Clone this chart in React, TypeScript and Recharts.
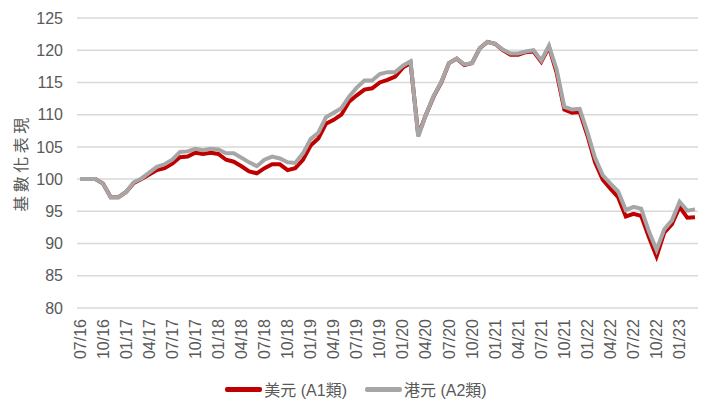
import React from 'react';
import { LineChart, Line, XAxis, YAxis, CartesianGrid, Legend, Label } from 'recharts';

const months = [
  '07/16', '08/16', '09/16', '10/16', '11/16', '12/16',
  '01/17', '02/17', '03/17', '04/17', '05/17', '06/17', '07/17', '08/17', '09/17', '10/17', '11/17', '12/17',
  '01/18', '02/18', '03/18', '04/18', '05/18', '06/18', '07/18', '08/18', '09/18', '10/18', '11/18', '12/18',
  '01/19', '02/19', '03/19', '04/19', '05/19', '06/19', '07/19', '08/19', '09/19', '10/19', '11/19', '12/19',
  '01/20', '02/20', '03/20', '04/20', '05/20', '06/20', '07/20', '08/20', '09/20', '10/20', '11/20', '12/20',
  '01/21', '02/21', '03/21', '04/21', '05/21', '06/21', '07/21', '08/21', '09/21', '10/21', '11/21', '12/21',
  '01/22', '02/22', '03/22', '04/22', '05/22', '06/22', '07/22', '08/22', '09/22', '10/22', '11/22', '12/22',
  '01/23', '02/23', '03/23',
];

const usdSeries = [
  100, 100, 100, 99.3, 97.2, 97.2,
  98.0, 99.4, 100.0, 100.7, 101.4, 101.7, 102.4, 103.4, 103.5, 104.1, 103.9, 104.1,
  103.9, 103.0, 102.7, 102.0, 101.2, 100.9, 101.7, 102.3, 102.3, 101.4, 101.7, 103.0,
  105.2, 106.3, 108.6, 109.2, 110.0, 112.0, 113.0, 113.9, 114.1, 115.0, 115.4, 115.9,
  117.3, 118.0, 106.8, 110.0, 112.8, 115.0, 118.0, 118.7, 117.7, 118.0, 120.3, 121.3,
  121.0, 120.0, 119.3, 119.3, 119.7, 119.8, 118.2, 120.5, 116.5, 110.8, 110.3, 110.4,
  106.8, 102.6, 99.9, 98.5, 97.2, 94.2, 94.6, 94.3, 91.0, 88.0, 91.7, 93.0,
  95.7, 94.0, 94.1,
];

const hkdSeries = [
  100, 100, 100, 99.3, 97.2, 97.2,
  98.0, 99.5, 100.1, 101.0, 101.9, 102.3, 103.0, 104.2, 104.3, 104.7, 104.5, 104.7,
  104.6, 104.0, 104.0, 103.3, 102.6, 102.0, 103.0, 103.5, 103.2, 102.6, 102.5, 104.0,
  106.2, 107.2, 109.6, 110.3, 111.0, 112.8, 114.2, 115.3, 115.3, 116.3, 116.6, 116.6,
  117.6, 118.3, 106.6, 110.0, 112.9, 115.1, 118.0, 118.7, 117.8, 118.0, 120.3, 121.3,
  121.0, 120.1, 119.5, 119.5, 119.8, 120.0, 118.4, 120.7, 117.0, 111.2, 110.8, 110.9,
  107.3, 103.3, 100.6, 99.3, 98.1, 95.2, 95.7, 95.4, 91.9, 89.0, 92.2, 93.6,
  96.5, 95.1, 95.3,
];

const yTicks = [80, 85, 90, 95, 100, 105, 110, 115, 120, 125];
const seriesNames = ['美元 (A1類)', '港元 (A2類)'];
const yAxisTitle = '基數化表現';

const data = months.map((m, i) => ({ month: m, usd: usdSeries[i], hkd: hkdSeries[i] }));

const FONT = '"Liberation Sans", "Noto Sans CJK TC", sans-serif';
const TEXT = '#595959';
const RED = '#C00000';
const GRAY = '#A6A6A6';

const XTick = (props: any) => {
  const { x, y, payload } = props;
  return (
    <text
      x={x}
      y={y}
      transform={`rotate(-90, ${x}, ${y})`}
      textAnchor="end"
      dominantBaseline="central"
      fill={TEXT}
      fontSize={16}
      fontFamily={FONT}
    >
      {payload.value}
    </text>
  );
};

const YTitle = (props: any) => {
  const { viewBox } = props;
  const cx = viewBox.x + 21;
  const cy = viewBox.y + viewBox.height / 2;
  return (
    <text
      x={cx}
      y={cy}
      transform={`rotate(-90, ${cx}, ${cy})`}
      textAnchor="middle"
      dominantBaseline="central"
      fill={TEXT}
      fontSize={16}
      letterSpacing={3.5}
      fontFamily={FONT}
    >
      {yAxisTitle}
    </text>
  );
};

const LegendContent = (props: any) => {
  const payload = [...(props.payload || [])].sort(
    (a: any, b: any) => seriesNames.indexOf(a.value) - seriesNames.indexOf(b.value)
  );
  return (
    <div
      style={{
        display: 'flex',
        justifyContent: 'center',
        alignItems: 'center',
        height: 24,
        paddingLeft: 14,
        fontFamily: FONT,
        fontSize: 16,
        color: TEXT,
        whiteSpace: 'nowrap',
      }}
    >
      {payload.map((p: any, i: number) => (
        <div key={i} style={{ display: 'flex', alignItems: 'center', marginLeft: i === 0 ? 0 : 18 }}>
          <div style={{ width: 37, height: 5, borderRadius: 2, background: p.color, marginRight: 2 }} />
          <span>{p.value}</span>
        </div>
      ))}
    </div>
  );
};

export default function App() {
  return (
    <div style={{ position: 'absolute', left: 0, top: 0, width: 703, height: 401, background: '#fff' }}>
      <LineChart width={703} height={401} data={data} margin={{ top: 18, right: 5, bottom: 0, left: 0 }}>
        <CartesianGrid vertical={false} stroke="#D9D9D9" strokeWidth={1.5} />
        <XAxis
          dataKey="month"
          interval={2}
          tick={<XTick />}
          tickLine={false}
          axisLine={false}
          tickSize={0}
          tickMargin={11}
          height={69}
          padding={{ left: 3, right: 3 }}
        />
        <YAxis
          domain={[80, 125]}
          ticks={yTicks}
          width={77}
          tickLine={false}
          axisLine={false}
          tickSize={6}
          tickMargin={8}
          tick={{ fill: TEXT, fontSize: 16, fontFamily: FONT }}
        >
          <Label content={<YTitle />} />
        </YAxis>
        <Legend verticalAlign="bottom" height={24} content={<LegendContent />} />
        <Line
          type="linear"
          dataKey="usd"
          name={seriesNames[0]}
          stroke={RED}
          strokeWidth={4}
          dot={false}
          isAnimationActive={false}
        />
        <Line
          type="linear"
          dataKey="hkd"
          name={seriesNames[1]}
          stroke={GRAY}
          strokeWidth={4}
          dot={false}
          isAnimationActive={false}
        />
      </LineChart>
    </div>
  );
}
